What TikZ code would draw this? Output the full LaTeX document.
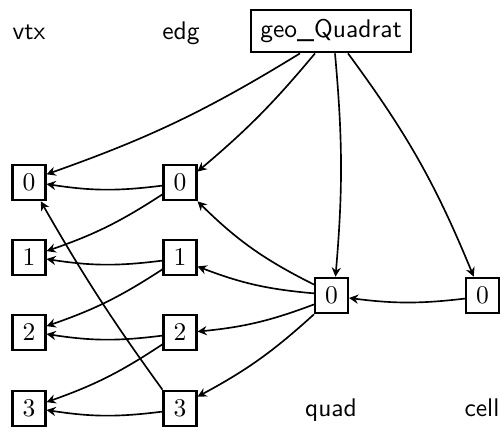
\documentclass[tikz,border=0pt]{standalone}
\usetikzlibrary{arrows.meta,calc}
\begin{document}
\begin{tikzpicture}[x=0.392pt,y=-0.392pt,
  box/.style={draw,line width=0.85pt,inner sep=0pt,minimum width=12.9pt,minimum height=13.9pt},
  lbl/.style={font=\sffamily,anchor=base,inner sep=0pt},
  link/.style={line width=0.65pt,-{Stealth[length=3.6pt,width=3.6pt,inset=1.2pt]}},
]
\useasboundingbox (0,0) rectangle (500,428);

% column headers
\node[lbl] (hvtx) at (29,39) {vtx};
\node[lbl] (hedg) at (181,39) {edg};
\node[lbl] (hquad) at (331,416.5) {quad};
\node[lbl] (hcell) at (482,416.5) {cell};

% root
\node[box,minimum width=62.5pt,minimum height=16.7pt] (geo) at (331,31) {\sffamily geo\_Quadrat};

% vertices and edges
\foreach \i/\y in {0/182.5,1/257.5,2/332.5,3/408.5}{
  \node[box] (vtx\i) at (29,\y) {$\i$};
  \node[box] (edg\i) at (180,\y) {$\i$};
}
\node[box] (quad) at (331.5,295.5) {$0$};
\node[box] (cell) at (482.5,295.5) {$0$};

% root references
\draw[link] ($(geo.south)+(-31,0)$) to[bend left=6] (vtx0.25);
\draw[link] ($(geo.south)+(-16,0)$) to[bend left=5] (edg0.32);
\draw[link] ($(geo.south)+(4,0)$) to[bend left=5] (quad.78);
\draw[link] ($(geo.south)+(17,0)$) to[bend left=7] (cell.115);

% edge -> vertex
\foreach \i/\j in {0/1,1/2,2/3}{
  \draw[link] (edg\i.190) to[bend left=8] (vtx\i.-5);
  \draw[link] (edg\i.214) to[bend left=7] (vtx\j.20);
}
\draw[link] (edg3.190) to[bend left=8] (vtx3.-5);
\draw[link] (edg3.north west) to[bend left=3] (vtx0.-58);

% quad -> edges
\draw[link] (quad.148) to[bend left=9] (edg0.south east);
\draw[link] (quad.173) to[bend left=8] (edg1.-27);
\draw[link] (quad.207) to[bend left=7.5] (edg2.3);
\draw[link] (quad.south west) to[bend left=7] (edg3.34);

% cell -> quad
\draw[link] (cell.190) to[bend left=7] (quad.-8);
\end{tikzpicture}
\end{document}
